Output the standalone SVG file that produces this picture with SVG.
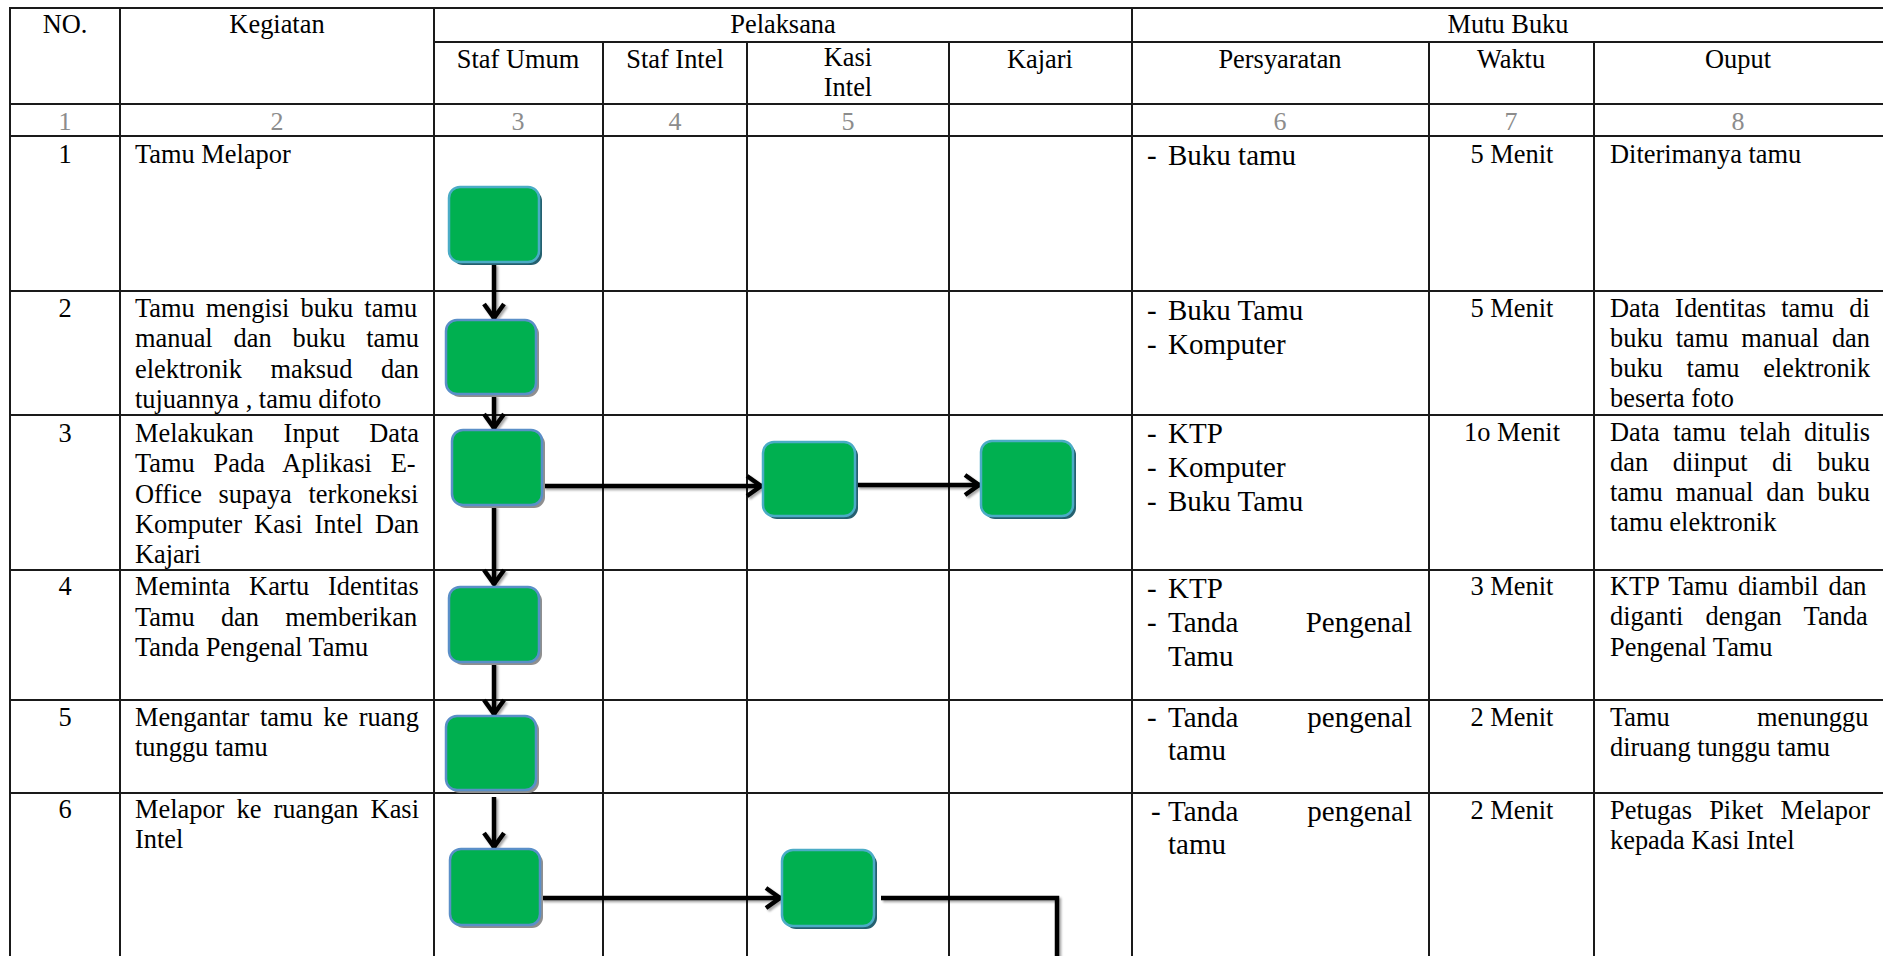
<svg xmlns="http://www.w3.org/2000/svg" width="1883" height="956" viewBox="0 0 1883 956">
<style>
.t{font-family:"Liberation Serif","Times New Roman",serif;font-size:26.4px;fill:#000}
.c{text-anchor:middle}
.p{font-size:29px}
.n{fill:#8c8c8c;font-size:26px}
.grid line{stroke:#1a1a1a;stroke-width:2}
.box{fill:#00B050;stroke:#4BACC6;stroke-width:2.5}
.box2{fill:#00B050;stroke:#5A8FC8;stroke-width:2.5}
.sh1{fill:#24606f}
.sh2{fill:#8f8f8f}
.conn{stroke:#000;stroke-width:4.5;fill:none}
</style>
<defs>
<marker id="ah" markerUnits="userSpaceOnUse" markerWidth="24" markerHeight="26" viewBox="0 0 24 26" refX="19" refY="13" orient="auto">
<path d="M4,3 L18,13 L4,23" fill="none" stroke="#000" stroke-width="4.5" stroke-linejoin="miter"/>
</marker>
<filter id="ds" x="-10%" y="-10%" width="130%" height="130%">
<feDropShadow dx="2" dy="2" stdDeviation="1" flood-color="#000" flood-opacity="0.35"/>
</filter>
</defs>
<rect width="1883" height="956" fill="#fff"/>

<g id="grid" class="grid">
<line x1="9" y1="8" x2="1883" y2="8"/>
<line x1="434" y1="42" x2="1883" y2="42"/>
<line x1="9" y1="104" x2="1883" y2="104"/>
<line x1="9" y1="136" x2="1883" y2="136"/>
<line x1="9" y1="291" x2="1883" y2="291"/>
<line x1="9" y1="415" x2="1883" y2="415"/>
<line x1="9" y1="570" x2="1883" y2="570"/>
<line x1="9" y1="700" x2="1883" y2="700"/>
<line x1="9" y1="793" x2="1883" y2="793"/>
<line x1="10" y1="8" x2="10" y2="956"/>
<line x1="120" y1="8" x2="120" y2="956"/>
<line x1="434" y1="8" x2="434" y2="956"/>
<line x1="603" y1="42" x2="603" y2="956"/>
<line x1="747" y1="42" x2="747" y2="956"/>
<line x1="949" y1="42" x2="949" y2="956"/>
<line x1="1132" y1="8" x2="1132" y2="956"/>
<line x1="1429" y1="42" x2="1429" y2="956"/>
<line x1="1594" y1="42" x2="1594" y2="956"/>
</g>

<g id="header">
<text class="t c" x="65" y="33">NO.</text>
<text class="t c" x="277" y="33">Kegiatan</text>
<text class="t c" x="783" y="33">Pelaksana</text>
<text class="t c" x="1508" y="33">Mutu Buku</text>
<text class="t c" x="518" y="68">Staf Umum</text>
<text class="t c" x="675" y="68">Staf Intel</text>
<text class="t c" x="848" y="66">Kasi</text>
<text class="t c" x="848" y="96">Intel</text>
<text class="t c" x="1040" y="68">Kajari</text>
<text class="t c" x="1280" y="68">Persyaratan</text>
<text class="t c" x="1511" y="68">Waktu</text>
<text class="t c" x="1738" y="68">Ouput</text>
<text class="t c n" x="65" y="130">1</text>
<text class="t c n" x="277" y="130">2</text>
<text class="t c n" x="518" y="130">3</text>
<text class="t c n" x="675" y="130">4</text>
<text class="t c n" x="848" y="130">5</text>
<text class="t c n" x="1280" y="130">6</text>
<text class="t c n" x="1511" y="130">7</text>
<text class="t c n" x="1738" y="130">8</text>
</g>

<g id="col-no">
<text class="t c" x="65" y="163">1</text>
<text class="t c" x="65" y="317">2</text>
<text class="t c" x="65" y="442">3</text>
<text class="t c" x="65" y="595">4</text>
<text class="t c" x="65" y="726">5</text>
<text class="t c" x="65" y="818">6</text>
</g>

<g id="col-kegiatan">
<text class="t" x="135" y="163">Tamu Melapor</text>
<text class="t" x="135" y="317" word-spacing="4.5">Tamu mengisi buku tamu</text>
<text class="t" x="135" y="347" word-spacing="14.3">manual dan buku tamu</text>
<text class="t" x="135" y="378" word-spacing="21.8">elektronik maksud dan</text>
<text class="t" x="135" y="408">tujuannya , tamu difoto</text>
<text class="t" x="135" y="442" word-spacing="23.3">Melakukan Input Data</text>
<text class="t" x="135" y="472" word-spacing="12.3">Tamu Pada Aplikasi E-</text>
<text class="t" x="135" y="503" word-spacing="10">Office supaya terkoneksi</text>
<text class="t" x="135" y="533" word-spacing="5.5">Komputer Kasi Intel Dan</text>
<text class="t" x="135" y="563">Kajari</text>
<text class="t" x="135" y="595" word-spacing="12.2">Meminta Kartu Identitas</text>
<text class="t" x="135" y="626" word-spacing="19.6">Tamu dan memberikan</text>
<text class="t" x="135" y="656">Tanda Pengenal Tamu</text>
<text class="t" x="135" y="726" word-spacing="4">Mengantar tamu ke ruang</text>
<text class="t" x="135" y="756">tunggu tamu</text>
<text class="t" x="135" y="818" word-spacing="5.5">Melapor ke ruangan Kasi</text>
<text class="t" x="135" y="848">Intel</text>
</g>

<g id="col-persyaratan">
<text class="t p" x="1147" y="165">-</text><text class="t p" x="1168" y="165">Buku tamu</text>
<text class="t p" x="1147" y="320">-</text><text class="t p" x="1168" y="320">Buku Tamu</text>
<text class="t p" x="1147" y="354">-</text><text class="t p" x="1168" y="354">Komputer</text>
<text class="t p" x="1147" y="443">-</text><text class="t p" x="1168" y="443">KTP</text>
<text class="t p" x="1147" y="477">-</text><text class="t p" x="1168" y="477">Komputer</text>
<text class="t p" x="1147" y="511">-</text><text class="t p" x="1168" y="511">Buku Tamu</text>
<text class="t p" x="1147" y="598">-</text><text class="t p" x="1168" y="598">KTP</text>
<text class="t p" x="1147" y="632">-</text><text class="t p" x="1168" y="632" word-spacing="60">Tanda Pengenal</text>
<text class="t p" x="1168" y="666">Tamu</text>
<text class="t p" x="1147" y="727">-</text><text class="t p" x="1168" y="727" word-spacing="61.6">Tanda pengenal</text>
<text class="t p" x="1168" y="760">tamu</text>
<text class="t p" x="1151" y="821">-</text><text class="t p" x="1168" y="821" word-spacing="61.6">Tanda pengenal</text>
<text class="t p" x="1168" y="854">tamu</text>
</g>

<g id="col-waktu">
<text class="t c" x="1512" y="163">5 Menit</text>
<text class="t c" x="1512" y="317">5 Menit</text>
<text class="t c" x="1512" y="441">1o Menit</text>
<text class="t c" x="1512" y="595">3 Menit</text>
<text class="t c" x="1512" y="726">2 Menit</text>
<text class="t c" x="1512" y="819">2 Menit</text>
</g>

<g id="col-ouput">
<text class="t" x="1610" y="163">Diterimanya tamu</text>
<text class="t" x="1610" y="317" word-spacing="8.7">Data Identitas tamu di</text>
<text class="t" x="1610" y="347" word-spacing="6.3">buku tamu manual dan</text>
<text class="t" x="1610" y="377" word-spacing="17.2">buku tamu elektronik</text>
<text class="t" x="1610" y="407">beserta foto</text>
<text class="t" x="1610" y="441" word-spacing="6.8">Data tamu telah ditulis</text>
<text class="t" x="1610" y="471" word-spacing="18">dan diinput di buku</text>
<text class="t" x="1610" y="501" word-spacing="6.3">tamu manual dan buku</text>
<text class="t" x="1610" y="531">tamu elektronik</text>
<text class="t" x="1610" y="595" word-spacing="3.3">KTP Tamu diambil dan</text>
<text class="t" x="1610" y="625" word-spacing="15.7">diganti dengan Tanda</text>
<text class="t" x="1610" y="656">Pengenal Tamu</text>
<text class="t" x="1610" y="726" word-spacing="80.7">Tamu menunggu</text>
<text class="t" x="1610" y="756">diruang tunggu tamu</text>
<text class="t" x="1610" y="819" word-spacing="10.5">Petugas Piket Melapor</text>
<text class="t" x="1610" y="849">kepada Kasi Intel</text>
</g>

<g id="connectors" filter="url(#ds)">
<path class="conn" d="M494,264 L494,319" marker-end="url(#ah)"/>
<path class="conn" d="M494,395 L494,429" marker-end="url(#ah)"/>
<path class="conn" d="M494,506 L494,585" marker-end="url(#ah)"/>
<path class="conn" d="M543,486 L762,486" marker-end="url(#ah)"/>
<path class="conn" d="M857,485 L980,485" marker-end="url(#ah)"/>
<path class="conn" d="M494,663 L494,715" marker-end="url(#ah)"/>
<path class="conn" d="M494,797 L494,848" marker-end="url(#ah)"/>
<path class="conn" d="M541,898 L781,898" marker-end="url(#ah)"/>
<path class="conn" d="M881,898 L1057,898 L1057,956"/>
</g>

<g id="n1"><rect class="sh1" x="452" y="190" width="90" height="75" rx="11"/><rect class="box" x="449" y="187" width="90" height="75" rx="11"/></g>
<g id="n2"><rect class="sh2" x="449" y="323" width="90" height="74" rx="11"/><rect class="box2" x="446" y="320" width="90" height="74" rx="11"/></g>
<g id="n3"><rect class="sh2" x="455" y="433" width="90" height="75" rx="11"/><rect class="box2" x="452" y="430" width="90" height="75" rx="11"/></g>
<g id="n3b"><rect class="sh1" x="766" y="445" width="92" height="74" rx="11"/><rect class="box" x="763" y="442" width="92" height="74" rx="11"/></g>
<g id="n3c"><rect class="sh1" x="984" y="444" width="92" height="75" rx="11"/><rect class="box" x="981" y="441" width="92" height="75" rx="11"/></g>
<g id="n4"><rect class="sh2" x="452" y="590" width="90" height="75" rx="11"/><rect class="box2" x="449" y="587" width="90" height="75" rx="11"/></g>
<g id="n5"><rect class="sh2" x="449" y="719" width="90" height="74" rx="11"/><rect class="box2" x="446" y="716" width="90" height="74" rx="11"/></g>
<g id="n6"><rect class="sh2" x="453" y="852" width="90" height="76" rx="11"/><rect class="box2" x="450" y="849" width="90" height="76" rx="11"/></g>
<g id="n6b"><rect class="sh1" x="785" y="853" width="92" height="76" rx="11"/><rect class="box" x="782" y="850" width="92" height="76" rx="11"/></g>
</svg>
